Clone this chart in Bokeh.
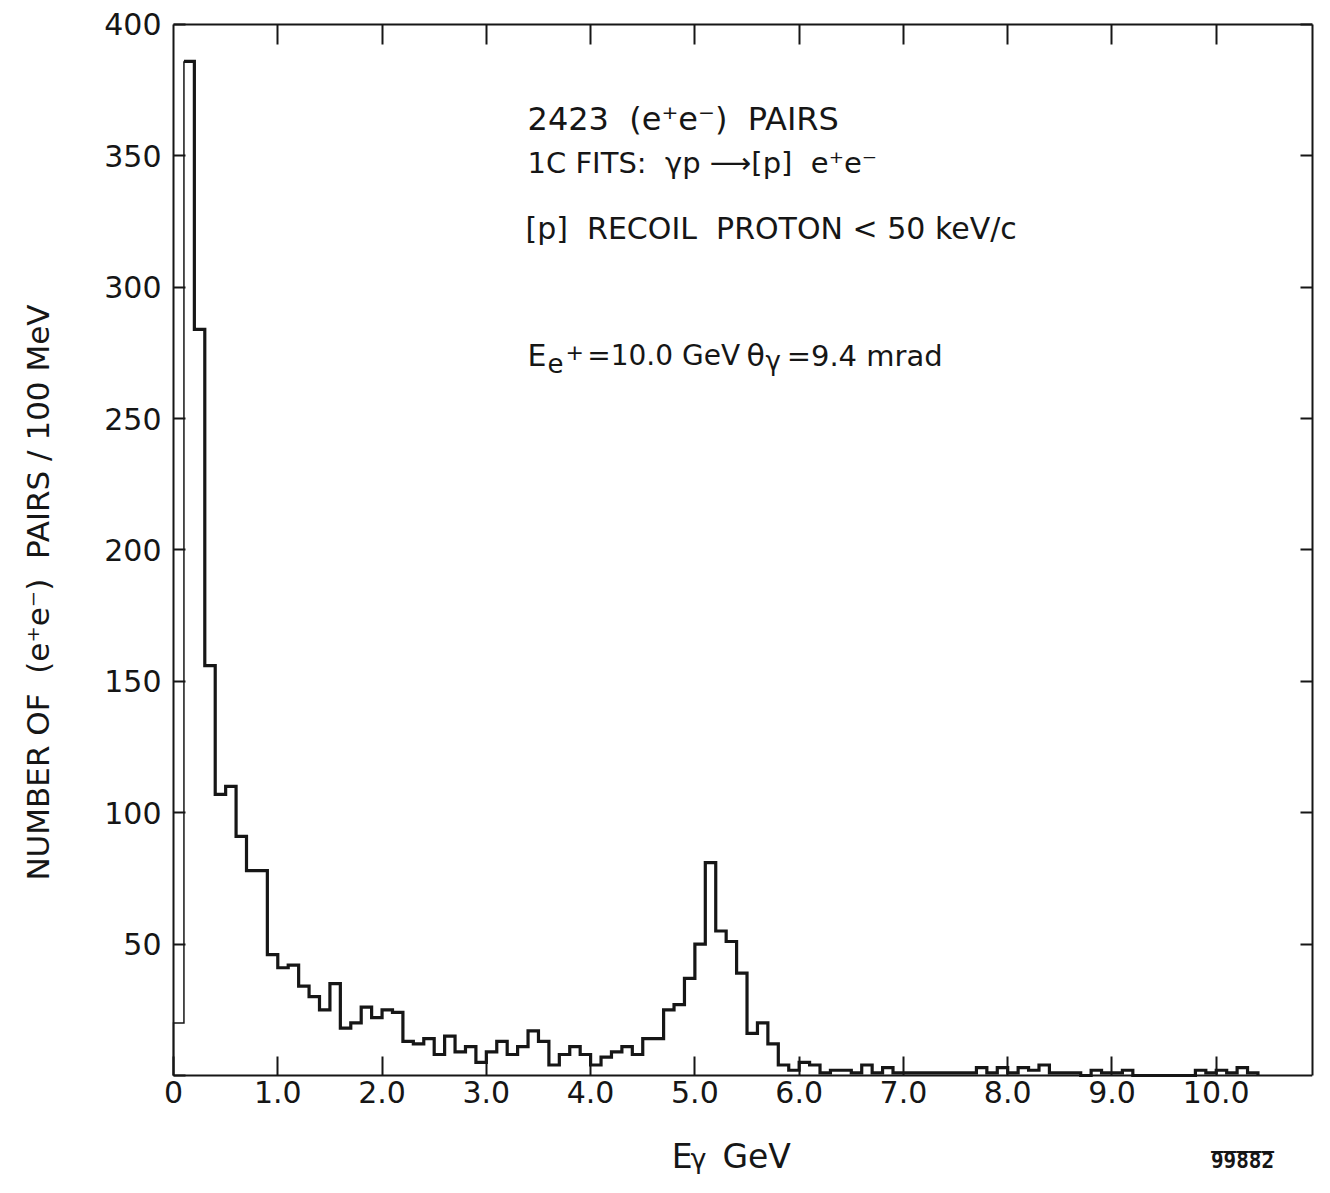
import math
import numpy as np
from bokeh.plotting import figure
from bokeh.models import LinearAxis, FixedTicker, Label, Range1d
from bokeh.embed import file_html
from bokeh.resources import INLINE

# ---- data ----
bin_width = 0.1  # GeV
counts = [20, 386, 284, 156, 107, 110, 91, 78, 78, 46,
          41, 42, 34, 30, 25, 35, 18, 20, 26, 22,
          25, 24, 13, 12, 14, 8, 15, 9, 11, 5,
          9, 13, 8, 11, 17, 13, 4, 8, 11, 8,
          4, 7, 9, 11, 8, 14, 14, 25, 27, 37,
          50, 81, 55, 51, 39, 16, 20, 12, 4, 2,
          5, 4, 1, 2, 2, 1, 4, 1, 3, 1,
          1, 1, 1, 1, 1, 1, 1, 3, 1, 3,
          1, 3, 2, 4, 1, 1, 1, 0, 2, 1,
          1, 2, 0, 0, 0, 0, 0, 0, 2, 1,
          2, 1, 3, 1]
x_ticks = [0, 1, 2, 3, 4, 5, 6, 7, 8, 9, 10]
x_tick_labels = ["0", "1.0", "2.0", "3.0", "4.0", "5.0", "6.0", "7.0", "8.0", "9.0", "10.0"]
y_ticks = [0, 50, 100, 150, 200, 250, 300, 350, 400]
y_tick_labels = ["", "50", "100", "150", "200", "250", "300", "350", "400"]
x_max = 10.923
y_max = 400

FONT = "DejaVu Sans"
INK = "#161616"
NB = "\u00a0"

p = figure(width=1314, height=1177, output_backend="svg", toolbar_location=None,
           x_range=Range1d(-1.640, x_max), y_range=Range1d(-38.82, 408.37),
           min_border_left=2, min_border_right=2, min_border_top=2, min_border_bottom=0)
p.background_fill_color = "white"
p.border_fill_color = "white"
p.outline_line_color = None
p.xgrid.visible = False
p.ygrid.visible = False

def style(ax, tick_in):
    ax.major_tick_in = tick_in
    ax.major_tick_out = 0
    ax.minor_tick_in = 0
    ax.minor_tick_out = 0
    ax.major_tick_line_width = 2
    ax.axis_line_width = 2
    ax.axis_line_color = INK
    ax.major_tick_line_color = INK

# bottom axis, drawn at y = 0
xa = p.xaxis[0]
xa.fixed_location = 0
xa.bounds = (0, x_max)
xa.ticker = FixedTicker(ticks=x_ticks)
xa.major_label_overrides = {t: s for t, s in zip(x_ticks, x_tick_labels)}
style(xa, 19)
xa.major_label_text_font = FONT
xa.major_label_text_font_size = "30px"
xa.major_label_text_color = INK
xa.major_label_standoff = 6

# left axis, drawn at x = 0
ya = p.yaxis[0]
ya.fixed_location = 0
ya.bounds = (0, y_max)
ya.ticker = FixedTicker(ticks=y_ticks)
ya.major_label_overrides = {t: s for t, s in zip(y_ticks, y_tick_labels)}
style(ya, 12)
ya.major_label_text_font = FONT
ya.major_label_text_font_size = "30px"
ya.major_label_text_color = INK
ya.major_label_standoff = 12

# top and right axes: ticks only
top = LinearAxis(ticker=FixedTicker(ticks=x_ticks[1:]), bounds=(0, x_max), fixed_location=y_max,
                 major_label_overrides={t: "" for t in x_ticks[1:]}, major_label_standoff=0)
style(top, 20)
p.add_layout(top, "above")
right = LinearAxis(ticker=FixedTicker(ticks=y_ticks[1:]), bounds=(0, y_max),
                   major_label_overrides={t: "" for t in y_ticks[1:]}, major_label_standoff=0)
style(right, 12)
p.add_layout(right, "right")

# ---- histogram outline ----
edges = np.arange(len(counts) + 1) * bin_width
xs = np.repeat(edges, 2)
ys = np.concatenate([[0], np.repeat(counts, 2), [0]])
p.line(xs[:4], ys[:4], line_color=INK, line_width=1.5, line_join="miter")
p.line(xs[3:], ys[3:], line_color=INK, line_width=3.2, line_join="miter")

def lab(x, y, text, size=30, **kw):
    p.add_layout(Label(x=x, y=y, text=text, text_font=kw.pop("font", FONT),
                       text_font_size=f"{size}px", text_color=INK,
                       text_baseline=kw.pop("baseline", "middle"),
                       text_align=kw.pop("align", "left"), **kw))

# annotations
lab(3.395, 364.2, "2423" + NB * 2 + "(e\u207ae\u207b)" + NB * 2 + "PAIRS", size=32)
lab(3.395, 347.1, "1C FITS:" + NB * 2 + "\u03b3p \u27f6[p]" + NB * 2 + "e\u207ae\u207b", size=29)
lab(3.376, 322.4, "[p]" + NB * 2 + "RECOIL" + NB * 2 + "PROTON < 50 keV/c")
lab(3.395, 274.0, "E")
lab(3.586, 271.0, "e", size=26)
lab(3.760, 275.2, "+", size=22)
lab(3.968, 274.0, "=10.0 GeV", size=28)
lab(5.495, 274.0, "\u03b8")
lab(5.677, 272.1, "\u03b3", size=26)
lab(5.880, 274.0, "=9.4 mrad", size=29)

# axis titles
lab(-1.295, 183.8, "NUMBER OF" + NB * 2 + "(e\u207ae\u207b)" + NB * 2 + "PAIRS / 100 MeV", size=31,
    angle=math.pi / 2, align="center")
lab(4.777, -31.0, "E", size=33)
lab(4.959, -31.5, "\u03b3", size=27)
lab(5.264, -31.0, "GeV", size=33)

# figure number with overline
lab(10.252, -32.3, "99882", size=21, font="DejaVu Sans Mono", align="center",
    text_font_style="bold")
lab(10.252, -32.3, "\u203e\u203e\u203e\u203e\u203e", size=21, font="DejaVu Sans Mono",
    align="center", text_font_style="bold")

open("out.html", "w").write(file_html(p, INLINE))
